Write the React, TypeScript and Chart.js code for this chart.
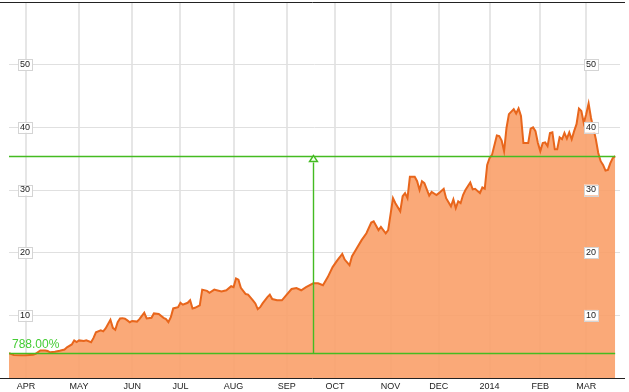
import React, { useEffect, useRef } from "react";
import { Chart, registerables } from "chart.js";

Chart.register(...registerables);

// Trading-day index (0 = first trading day of April 2013) and closing values
const days = [
  -7, -5, -2, 0, 3, 4, 6, 8, 9, 10, 12, 14, 16, 17, 19, 20, 21, 22, 24, 25, 27, 28, 29, 31, 32, 33, 35, 36, 37, 38,
  39, 40, 41, 42, 43, 44, 46, 47, 49, 50, 52, 53, 55, 57, 58, 59, 60, 61, 63, 64, 65, 67, 68, 69, 70, 72, 73, 75, 76, 78,
  79, 81, 83, 85, 86, 87, 88, 89, 91, 92, 94, 95, 96, 97, 98, 100, 101, 102, 104, 106, 108, 110, 112, 114, 116, 119, 121, 123, 125, 127,
  129, 131, 132, 134, 135, 137, 139, 141, 143, 144, 146, 147, 149, 150, 152, 153, 155, 156, 157, 158, 159, 161, 162, 163, 164, 165, 167, 168, 170, 171,
  173, 174, 176, 177, 178, 179, 180, 181, 182, 184, 185, 186, 188, 189, 190, 191, 192, 193, 195, 196, 197, 198, 199, 200, 202, 203, 204, 205, 206, 208,
  209, 210, 211, 212, 213, 214, 215, 216, 217, 218, 219, 220, 221, 222, 223, 224, 225, 226, 227, 228, 229, 230, 231, 232, 233, 234, 235, 236, 237, 238,
  239, 240, 241, 242, 243, 244,
];
const prices = [
  3.98, 3.68, 3.65, 3.62, 3.7, 3.86, 4.39, 4.4, 4.3, 4.1, 4.2, 4.35, 4.55, 4.9, 5.35, 6.0, 5.75, 6.0, 5.9, 6.0, 5.7, 6.4, 7.3, 7.6, 7.45, 7.9, 9.3, 8.0, 7.7, 8.9,
  9.5, 9.55, 9.45, 9.2, 8.9, 9.1, 9.0, 9.4, 10.4, 9.5, 9.6, 10.3, 10.2, 9.6, 9.4, 8.9, 9.7, 11.1, 11.3, 12.0, 11.7, 12.0, 12.4, 11.1, 11.2, 11.6, 14.1, 13.9, 13.6, 14.1,
  14.0, 13.8, 14.0, 14.65, 14.5, 15.9, 15.7, 14.4, 13.4, 13.3, 12.4, 11.9, 11.0, 11.3, 11.9, 12.9, 13.3, 12.6, 12.4, 12.4, 13.3, 14.2, 14.35, 14.0, 14.5, 15.1, 15.1, 14.8, 16.1, 17.7,
  18.8, 19.8, 18.9, 18.0, 19.4, 20.7, 22.0, 23.1, 24.8, 25.0, 23.6, 24.1, 23.1, 23.6, 28.7, 27.9, 26.6, 29.0, 29.5, 28.7, 32.1, 32.1, 31.4, 30.0, 31.4, 31.1, 29.1, 29.7, 29.2, 29.5,
  30.2, 28.7, 27.4, 28.5, 27.1, 28.2, 27.9, 29.2, 30.0, 31.2, 30.1, 30.2, 29.5, 30.4, 30.2, 34.0, 35.1, 35.6, 38.7, 38.6, 37.9, 36.2, 39.9, 42.1, 42.9, 42.2, 43.0, 41.8, 37.5, 37.5,
  39.8, 40.0, 39.4, 37.5, 36.2, 37.5, 37.6, 37.0, 39.1, 39.2, 36.5, 36.5, 38.4, 38.1, 39.1, 38.2, 39.2, 38.1, 39.4, 40.5, 43.0, 42.6, 40.7, 42.1, 43.8, 41.5, 39.8, 38.1, 35.9, 34.6,
  34.0, 33.1, 33.2, 34.3, 35.1, 35.4,
];

// Month tick positions (trading-day index) and labels
const monthDays = [0, 22, 44, 64, 86, 108, 128, 151, 171, 192, 213, 232];
const monthLabels = ["APR", "MAY", "JUN", "JUL", "AUG", "SEP", "OCT", "NOV", "DEC", "2014", "FEB", "MAR"];
const yTickValues = [10, 20, 30, 40, 50];
const changeLabel = "788.00%";
const arrowDay = 119;

const FONT = "'Liberation Sans', Arial, sans-serif";
const GREEN = "#44bb22";
const LINE = "#e8661c";

const overlay = {
  id: "overlay",
  afterDatasetsDraw(chart: any) {
    const { ctx, scales } = chart;
    const xs = scales.x;
    const ys = scales.y;
    const x0 = xs.getPixelForValue(days[0]);
    const x1 = xs.getPixelForValue(days[days.length - 1]);
    const yb = Math.round(ys.getPixelForValue(prices[0])) + 0.5;
    const yt = Math.round(ys.getPixelForValue(prices[prices.length - 1])) + 0.5;
    const xa = Math.round(xs.getPixelForValue(arrowDay)) + 0.5;
    ctx.save();
    ctx.strokeStyle = GREEN;
    ctx.lineWidth = 1.4;
    ctx.beginPath();
    ctx.moveTo(x0, yb);
    ctx.lineTo(x1, yb);
    ctx.moveTo(x0, yt);
    ctx.lineTo(x1, yt);
    ctx.moveTo(xa, yb);
    ctx.lineTo(xa, yt + 6);
    ctx.stroke();
    ctx.beginPath();
    ctx.moveTo(xa, yt - 1);
    ctx.lineTo(xa - 4, yt + 5);
    ctx.lineTo(xa + 4, yt + 5);
    ctx.closePath();
    ctx.fillStyle = "#f4fff0";
    ctx.fill();
    ctx.stroke();
    ctx.fillStyle = "#44cc33";
    ctx.font = "12px " + FONT;
    ctx.textAlign = "left";
    ctx.textBaseline = "alphabetic";
    ctx.fillText(changeLabel, 12, yb - 6);
    ctx.restore();
  },
  afterDraw(chart: any) {
    const { ctx, chartArea, scales } = chart;
    ctx.save();
    ctx.strokeStyle = "#222";
    ctx.lineWidth = 1;
    ctx.beginPath();
    ctx.moveTo(0, Math.round(chartArea.top) + 0.5);
    ctx.lineTo(625, Math.round(chartArea.top) + 0.5);
    ctx.moveTo(0, Math.round(chartArea.bottom) + 0.5);
    ctx.lineTo(625, Math.round(chartArea.bottom) + 0.5);
    ctx.stroke();
    // thin frames around y tick label backdrops
    ctx.font = "9px " + FONT;
    ctx.strokeStyle = "#d4d4d4";
    for (const id of ["y", "y2"]) {
      const s = scales[id];
      const pad = s.options.ticks.padding;
      for (const v of yTickValues) {
        const w = ctx.measureText(String(v)).width;
        const py = s.getPixelForValue(v);
        const left = id === "y" ? s.right + pad - 2 : s.left + pad - w - 2;
        ctx.strokeRect(Math.round(left) + 0.5, Math.round(py - 5.4) + 0.5, Math.round(w + 4), 11);
      }
    }
    ctx.restore();
  },
};

export default function App() {
  const ref = useRef<HTMLCanvasElement>(null);
  useEffect(() => {
    document.body.style.margin = "0";
    const canvas = ref.current!;
    const yTicks = {
      mirror: true,
      font: { size: 9, family: FONT },
      color: "#222",
      showLabelBackdrop: true,
      backdropColor: "#ffffff",
      backdropPadding: { x: 2, y: 0 },
    };
    const fitVertical = (s: any) => {
      s.width = 0;
      s.paddingTop = 0;
      s.paddingBottom = 0;
    };
    const chart = new Chart(canvas, {
      type: "line",
      data: {
        datasets: [
          {
            data: days.map((d, i) => ({ x: d, y: prices[i] })),
            borderColor: LINE,
            borderWidth: 2,
            backgroundColor: "rgba(250,160,105,0.9)",
            fill: "origin",
            pointRadius: 0,
            tension: 0,
          },
        ],
      },
      options: {
        animation: false,
        responsive: false,
        maintainAspectRatio: false,
        events: [],
        layout: { padding: { left: 9, right: 9, top: 2, bottom: 0 } },
        plugins: { legend: { display: false }, tooltip: { enabled: false } },
        scales: {
          x: {
            type: "linear",
            min: -7,
            max: 246,
            afterBuildTicks: (s: any) => {
              s.ticks = monthDays.map((v) => ({ value: v }));
            },
            afterFit: (s: any) => {
              s.height = 14;
              s.paddingLeft = 0;
              s.paddingRight = 0;
            },
            ticks: {
              autoSkip: false,
              maxRotation: 0,
              padding: 3,
              font: { size: 9, family: FONT },
              color: "#222",
              callback: (v: any) => monthLabels[monthDays.indexOf(Number(v))] ?? "",
            },
            grid: { color: "#e6e6e6", lineWidth: 2, drawTicks: false },
            border: { display: false },
          },
          y: {
            position: "left",
            min: 0,
            max: 60,
            afterBuildTicks: (s: any) => {
              s.ticks = yTickValues.map((v) => ({ value: v }));
            },
            afterFit: fitVertical,
            ticks: { ...yTicks, padding: 11 },
            grid: { color: "#e0e0e0", lineWidth: 1, drawTicks: false },
            border: { display: false },
          },
          y2: {
            position: "right",
            min: 0,
            max: 60,
            afterBuildTicks: (s: any) => {
              s.ticks = yTickValues.map((v) => ({ value: v }));
            },
            afterFit: fitVertical,
            ticks: { ...yTicks, padding: -24, z: 1 },
            grid: { display: false, drawTicks: false },
            border: { display: false },
          },
        },
      },
      plugins: [overlay],
    } as any);
    return () => chart.destroy();
  }, []);
  return (
    <div style={{ width: 629, height: 392 }}>
      <canvas ref={ref} width={629} height={392} style={{ display: "block" }} />
    </div>
  );
}
